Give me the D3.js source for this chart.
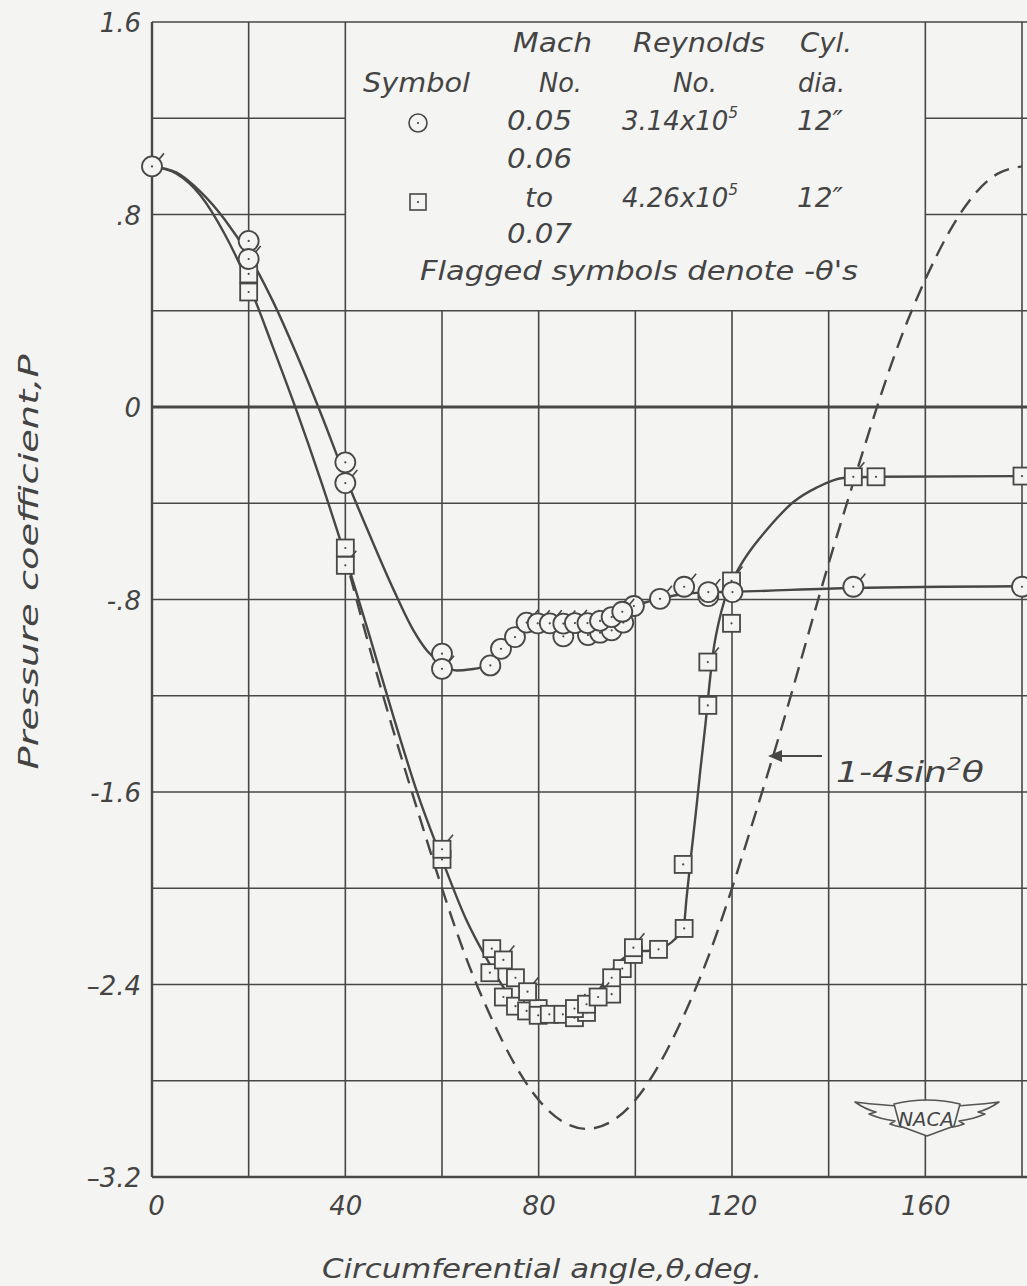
<!DOCTYPE html>
<html>
<head>
<meta charset="utf-8">
<script src="https://cdn.jsdelivr.net/npm/d3@7"></script>
<style>
  html, body { margin: 0; padding: 0; background: #f4f4f2; }
  svg { display: block; }
  text { font-family: "DejaVu Sans", "Liberation Sans", sans-serif; font-style: italic; fill: #444; }
</style>
</head>
<body>
<svg id="chart" width="1027" height="1286"></svg>
<script>
// ---------------- DATA ----------------
const xTickLabels = [0, 40, 80, 120, 160];
const yTickLabels = [1.6, 0.8, 0, -0.8, -1.6, -2.4, -3.2];
const xGridValues = [0, 20, 40, 60, 80, 100, 120, 140, 160, 180];
const yGridValues = [1.6, 1.2, 0.8, 0.4, 0, -0.4, -0.8, -1.2, -1.6, -2.0, -2.4, -2.8, -3.2];

// Mach 0.05 (circles): [theta, P]
const circlePlain = [[20,0.69],[40,-0.23],[60,-1.025],[70,-1.074],[72.2,-1.005],[75.1,-0.956],
  [85.1,-0.953],[90.2,-0.948],[92.7,-0.938],[95.1,-0.928],[97.5,-0.896],[99.7,-0.827],
  [115.1,-0.786],[120.1,-0.769],[180,-0.747]];
const circleFlagged = [[0,1.0],[20,0.615],[40,-0.316],[60,-1.088],[77.5,-0.896],[79.8,-0.899],
  [82.3,-0.899],[85.1,-0.90],[87.5,-0.898],[90.1,-0.898],[92.7,-0.889],[95.1,-0.873],
  [97.3,-0.851],[105.1,-0.797],[110.1,-0.747],[115.1,-0.769],[145.1,-0.747]];
// faired curve through circles
const circleCurve = [[0,1.0],[5,0.975],[10,0.895],[15,0.78],[20,0.63],[25,0.44],[30,0.215],
  [35,-0.03],[40,-0.29],[45,-0.53],[50,-0.76],[54,-0.925],[57,-1.015],[60,-1.068],[63,-1.095],
  [66,-1.09],[68,-1.083],[70,-1.065],[72,-1.01],[75,-0.95],[78,-0.91],[82,-0.897],[88,-0.89],
  [94,-0.873],[98,-0.842],[100,-0.825],[105,-0.797],[110,-0.777],[115,-0.77],[120,-0.768],
  [145,-0.752],[180,-0.745]];

// Mach 0.06 to 0.07 (squares): [theta, P]
const squarePlain = [[20,0.553],[20,0.478],[40,-0.586],[60,-1.88],[69.9,-2.351],[70.3,-2.251],
  [72.7,-2.452],[75.2,-2.372],[75.2,-2.49],[77.5,-2.51],[79.9,-2.50],[79.9,-2.528],[82.2,-2.524],
  [85,-2.524],[87.4,-2.538],[89.9,-2.516],[95.1,-2.44],[97.3,-2.334],[95.1,-2.372],[99.6,-2.275],
  [104.8,-2.254],[110.1,-2.167],[109.9,-1.901],[115,-1.240],[119.9,-0.899],[149.8,-0.290],[180,-0.287]];
const squareFlagged = [[40,-0.658],[60,-1.838],[72.7,-2.298],[77.7,-2.43],[87.4,-2.50],[89.9,-2.482],
  [92.3,-2.452],[99.6,-2.247],[115,-1.06],[119.9,-0.723],[145.1,-0.290]];
// faired curve through squares
const squareCurve = [[0,1.0],[5,0.97],[10,0.88],[15,0.72],[20,0.51],[25,0.25],[30,-0.02],[35,-0.31],
  [40,-0.62],[45,-0.95],[50,-1.29],[55,-1.61],[60,-1.88],[65,-2.13],[70,-2.32],[73,-2.42],[76,-2.485],
  [80,-2.515],[85,-2.522],[88,-2.505],[90,-2.48],[92.3,-2.43],[94,-2.375],[96,-2.32],[98.6,-2.275],
  [100,-2.262],[103,-2.26],[105,-2.252],[108,-2.215],[110,-2.16],[110.6,-2.04],[111.5,-1.87],
  [112.5,-1.69],[113.5,-1.50],[114.5,-1.32],[115.3,-1.16],[116.1,-1.02],[117.2,-0.90],[118.5,-0.80],
  [120,-0.725],[122,-0.65],[124,-0.59],[127.2,-0.51],[132.7,-0.395],[137.5,-0.335],[143,-0.295],
  [150,-0.29],[180,-0.287]];

// theoretical curve 1-4sin^2(theta), dashed
const theoryCurve = [[41,-0.70],[45,-1.0],[50,-1.35],[55,-1.68],[60,-2.0],[65,-2.29],[70,-2.53],
  [75,-2.73],[80,-2.88],[85,-2.97],[90,-3.0],[95,-2.97],[100,-2.88],[105,-2.73],[110,-2.53],
  [115,-2.29],[120,-2.0],[125,-1.68],[130,-1.35],[135,-1.0],[140,-0.65],[145,-0.32],[150,0.0],
  [155,0.29],[160,0.53],[165,0.73],[170,0.88],[175,0.97],[180,1.0]];

// ---------------- CHART ----------------
const ink = "#474747";
const bg = "#f4f4f2";
const svg = d3.select("#chart");
const x = d3.scaleLinear().domain([0, 180]).range([152, 1022]);
const y = d3.scaleLinear().domain([-3.2, 1.6]).range([1177, 22]);

svg.append("rect").attr("width", 1027).attr("height", 1286).attr("fill", bg);

const grid = svg.append("g").attr("stroke", ink).attr("stroke-width", 1.6).attr("fill", "none");
// legend box region: theta 40..160, P 0.4..1.6 has no grid inside
xGridValues.forEach(v => {
  const inside = v > 40 && v < 160;
  grid.append("line").attr("x1", x(v)).attr("x2", x(v))
    .attr("y1", inside ? y(0.4) : y(1.6)).attr("y2", y(-3.2))
    .attr("stroke-width", v === 0 ? 2.4 : 1.6);
});
yGridValues.forEach(v => {
  if (v > 0.41 && v < 1.59) {
    grid.append("line").attr("x1", x(0)).attr("x2", x(40)).attr("y1", y(v)).attr("y2", y(v));
    grid.append("line").attr("x1", x(160)).attr("x2", 1027).attr("y1", y(v)).attr("y2", y(v));
  } else {
    grid.append("line").attr("x1", x(0)).attr("x2", 1027).attr("y1", y(v)).attr("y2", y(v))
      .attr("stroke-width", v === 0 ? 3 : (v === -3.2 ? 2.4 : 1.6));
  }
});

// axes (labels only)
const fmt = d => {
  if (d === 0) return "0";
  const a = Math.abs(d);
  const s = a < 1 ? String(a).replace(/^0/, "") : String(a);
  const dash = a > 2 ? "\u2013" : "-";
  return (d < 0 ? dash : "") + s;
};
const yAxis = svg.append("g").attr("transform", `translate(${x(0) - 11},0)`)
  .call(d3.axisLeft(y).tickValues(yTickLabels).tickFormat(fmt).tickSize(0).tickPadding(0));
yAxis.select(".domain").remove();
yAxis.selectAll("text").attr("font-size", 26).attr("font-family", "DejaVu Sans")
  .attr("font-style", "italic").attr("fill", "#444").attr("dy", "0.38em");

const xAxis = svg.append("g").attr("transform", `translate(0,${y(-3.2)})`)
  .call(d3.axisBottom(x).tickValues(xTickLabels).tickFormat(d => String(d)).tickSize(0).tickPadding(20));
xAxis.select(".domain").remove();
xAxis.selectAll("text").attr("font-size", 26).attr("font-family", "DejaVu Sans")
  .attr("font-style", "italic").attr("fill", "#444");
xAxis.selectAll(".tick").filter(d => d === 0).select("text").attr("dx", 4);

// axis titles
svg.append("text").attr("x", 542).attr("y", 1278).attr("text-anchor", "middle")
  .attr("font-size", 26).attr("textLength", 440).attr("lengthAdjust", "spacingAndGlyphs")
  .text("Circumferential angle,θ,deg.");
svg.append("text").attr("transform", "translate(38,562) rotate(-90)").attr("text-anchor", "middle")
  .attr("font-size", 26).attr("textLength", 415).attr("lengthAdjust", "spacingAndGlyphs")
  .text("Pressure coefficient,P");

// curves
const line = d3.line().x(d => x(d[0])).y(d => y(d[1])).curve(d3.curveMonotoneX);
const tline = d3.line().x(d => x(d[0])).y(d => y(d[1])).curve(d3.curveNatural);
svg.append("path").datum(theoryCurve).attr("d", tline).attr("fill", "none")
  .attr("stroke", ink).attr("stroke-width", 2.4).attr("stroke-dasharray", "16,9");
svg.append("path").datum(squareCurve).attr("d", line).attr("fill", "none")
  .attr("stroke", ink).attr("stroke-width", 2.4);
svg.append("path").datum(circleCurve).attr("d", line).attr("fill", "none")
  .attr("stroke", ink).attr("stroke-width", 2.4);

// symbols
const sq = 17, rc = 10;
function drawSquares(data, flagged) {
  const g = svg.append("g");
  data.forEach(d => {
    const cx = x(d[0]), cy = y(d[1]);
    g.append("rect").attr("x", cx - sq / 2).attr("y", cy - sq / 2).attr("width", sq).attr("height", sq)
      .attr("fill", bg).attr("stroke", ink).attr("stroke-width", 1.8);
    g.append("circle").attr("cx", cx).attr("cy", cy).attr("r", 1.1).attr("fill", ink);
    if (flagged) g.append("line").attr("x1", cx + 6).attr("y1", cy - sq / 2).attr("x2", cx + 11).attr("y2", cy - sq / 2 - 6)
      .attr("stroke", ink).attr("stroke-width", 1.6);
  });
}
function drawCircles(data, flagged) {
  const g = svg.append("g");
  data.forEach(d => {
    const cx = x(d[0]), cy = y(d[1]);
    g.append("circle").attr("cx", cx).attr("cy", cy).attr("r", rc)
      .attr("fill", bg).attr("stroke", ink).attr("stroke-width", 1.8);
    g.append("circle").attr("cx", cx).attr("cy", cy).attr("r", 1.1).attr("fill", ink);
    if (flagged) g.append("line").attr("x1", cx + 7).attr("y1", cy - 7).attr("x2", cx + 12).attr("y2", cy - 13)
      .attr("stroke", ink).attr("stroke-width", 1.6);
  });
}
drawSquares(squarePlain, false);
drawSquares(squareFlagged, true);
drawCircles(circlePlain, false);
drawCircles(circleFlagged, true);

// annotation for theory curve
svg.append("line").attr("x1", 822).attr("x2", 772).attr("y1", 756).attr("y2", 756)
  .attr("stroke", ink).attr("stroke-width", 2);
svg.append("path").attr("d", "M768,756 L782,750 L782,762 Z").attr("fill", ink);
const ann = svg.append("text").attr("x", 836).attr("y", 782).attr("font-size", 28)
  .attr("textLength", 148).attr("lengthAdjust", "spacingAndGlyphs");
ann.append("tspan").text("1-4sin");
ann.append("tspan").attr("font-size", 18).attr("dy", -12).text("2");
ann.append("tspan").attr("dy", 12).text("θ");

// legend
const L = svg.append("g").attr("font-size", 26);
const lt = (tx, ty, s, w) => {
  const t = L.append("text").attr("x", tx).attr("y", ty).text(s);
  if (w) t.attr("textLength", w).attr("lengthAdjust", "spacingAndGlyphs");
  return t;
};
lt(513, 52, "Mach", 79);
lt(633, 52, "Reynolds", 132);
lt(800, 52, "Cyl.", 52);
lt(363, 92, "Symbol", 107);
lt(539, 92, "No.", 43);
lt(673, 92, "No.", 44);
lt(798, 92, "dia.", 47);
lt(507, 130, "0.05", 65);
lt(797, 130, "12\u2033", 46);
lt(507, 168, "0.06", 65);
lt(525, 207, "to", 28);
lt(797, 207, "12\u2033", 46);
lt(507, 243, "0.07", 65);
lt(420, 280, "Flagged symbols denote -θ's", 438);
function sciText(tx, ty, mant) {
  const t = L.append("text").attr("x", tx).attr("y", ty);
  t.append("tspan").text(mant + "x10");
  t.append("tspan").attr("font-size", 15).attr("dy", -12).text("5");
}
sciText(622, 130, "3.14");
sciText(622, 207, "4.26");
L.append("circle").attr("cx", 418).attr("cy", 123).attr("r", 9).attr("fill", "none")
  .attr("stroke", ink).attr("stroke-width", 1.6);
L.append("circle").attr("cx", 418).attr("cy", 123).attr("r", 1.1).attr("fill", ink);
L.append("rect").attr("x", 410).attr("y", 194).attr("width", 16).attr("height", 16).attr("fill", "none")
  .attr("stroke", ink).attr("stroke-width", 1.6);
L.append("circle").attr("cx", 418).attr("cy", 202).attr("r", 1.1).attr("fill", ink);

// NACA emblem
const logo = svg.append("g").attr("stroke", "#555").attr("stroke-width", 1.6).attr("fill", bg)
  .attr("stroke-linejoin", "round");
logo.append("path").attr("d",
  "M898,1106 C885,1105 868,1104 855,1102 C862,1107 868,1110 876,1112 L869,1114 C878,1118 888,1120 895,1121 L890,1124 C898,1127 905,1128 912,1128 Z");
logo.append("path").attr("d",
  "M956,1106 C969,1105 986,1104 999,1102 C992,1107 986,1110 978,1112 L985,1114 C976,1118 966,1120 959,1121 L964,1124 C956,1127 949,1128 942,1128 Z");
logo.append("path").attr("d", "M894,1104 C915,1099 939,1099 960,1104 L954,1126 L927,1136 L900,1126 Z");
svg.append("text").attr("x", 926).attr("y", 1126).attr("text-anchor", "middle").attr("font-size", 20)
  .attr("font-style", "normal").attr("font-family", "Liberation Sans").attr("fill", "#555")
  .attr("textLength", 55).attr("lengthAdjust", "spacingAndGlyphs").text("NACA");
</script>
</body>
</html>
